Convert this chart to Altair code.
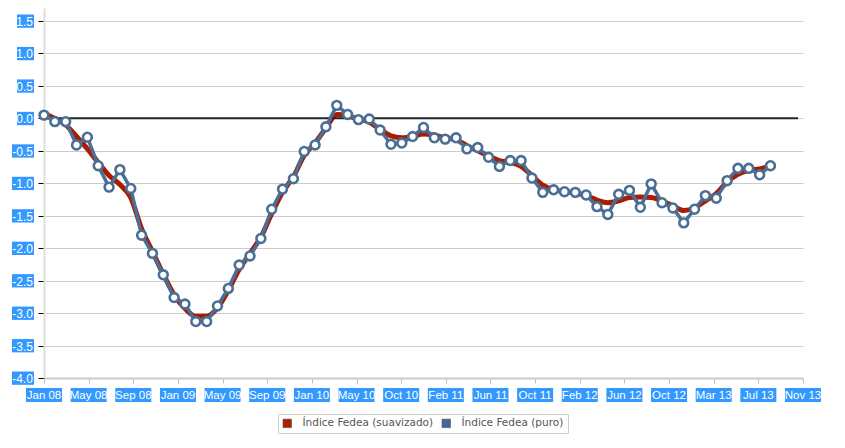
import altair as alt
import pandas as pd

# ---- data (monthly, Jan 2008 .. Aug 2013) ----
puro = [0.05, -0.05, -0.05, -0.41, -0.29, -0.73, -1.06, -0.79, -1.08, -1.80,
        -2.08, -2.41, -2.76, -2.86, -3.13, -3.13, -2.89, -2.62, -2.26, -2.12,
        -1.85, -1.40, -1.09, -0.93, -0.51, -0.41, -0.13, 0.20, 0.06, -0.02,
        -0.01, -0.18, -0.40, -0.38, -0.28, -0.14, -0.30, -0.32, -0.30, -0.47,
        -0.45, -0.60, -0.74, -0.65, -0.65, -0.92, -1.14, -1.10, -1.13, -1.14,
        -1.18, -1.36, -1.48, -1.17, -1.11, -1.37, -1.01, -1.30, -1.38, -1.61,
        -1.40, -1.19, -1.23, -0.96, -0.77, -0.77, -0.87, -0.73]
suavizado = [0.07, 0.00, -0.10, -0.28, -0.47, -0.68, -0.88, -1.02, -1.22, -1.70,
             -2.05, -2.40, -2.72, -2.93, -3.05, -3.05, -2.92, -2.65, -2.33, -2.08,
             -1.83, -1.47, -1.14, -0.90, -0.57, -0.38, -0.15, 0.06, 0.04, -0.01,
             -0.06, -0.17, -0.27, -0.30, -0.28, -0.24, -0.26, -0.30, -0.33, -0.42,
             -0.50, -0.58, -0.65, -0.68, -0.74, -0.88, -1.03, -1.10, -1.13, -1.15,
             -1.19, -1.26, -1.30, -1.27, -1.22, -1.21, -1.22, -1.27, -1.35, -1.42,
             -1.38, -1.27, -1.16, -0.98, -0.86, -0.80, -0.78, -0.73]
x_labels = ["Jan 08", "May 08", "Sep 08", "Jan 09", "May 09", "Sep 09",
            "Jan 10", "May 10", "Oct 10", "Feb 11", "Jun 11", "Oct 11",
            "Feb 12", "Jun 12", "Oct 12", "Mar 13", "Jul 13", "Nov 13"]
y_ticks = [-4.0, -3.5, -3.0, -2.5, -2.0, -1.5, -1.0, -0.5, 0.0, 0.5, 1.0, 1.5]
y_labels = ["-4.0", "-3.5", "-3.0", "-2.5", "-2.0", "-1.5", "-1.0", "-0.5",
            "0.0", "0.5", "1.0", "1.5"]
series = ["Índice Fedea (suavizado)", "Índice Fedea (puro)"]

RED = "#A61D03"
BLUE = "#4A6E95"
HL = "#3399FF"
FONT = "Liberation Sans"
LEG_FONT = "DejaVu Sans"

X_MAX = 70  # months from Jan 08 to Nov 13
df = pd.DataFrame({"m": list(range(len(puro))), "puro": puro, "suav": suavizado})
n_int = len(x_labels) - 1
xt = pd.DataFrame({"p": [i * X_MAX / n_int for i in range(len(x_labels))],
                   "lab": x_labels})
yt = pd.DataFrame({"v": y_ticks, "lab": y_labels})

xs = alt.Scale(domain=[0, X_MAX], nice=False, zero=False)
ys = alt.Scale(domain=[-4.0, 1.70], nice=False, zero=False)

x_axis = alt.Axis(values=xt["p"].tolist(), labels=False, grid=False,
                  domainColor="#cccccc", domainWidth=2, tickColor="#bbbbbb",
                  tickSize=5, title=None)
y_axis = alt.Axis(values=y_ticks, labels=False, grid=True, gridColor="#cccccc",
                  domainColor="#dddddd", domainWidth=2, tickColor="#000000",
                  tickSize=6, title=None)


def X(field):
    return alt.X(field, scale=xs, axis=x_axis)


def Y(field):
    return alt.Y(field, scale=ys, axis=y_axis)


red_line = alt.Chart(df).mark_line(color=RED, strokeWidth=5, interpolate="monotone").encode(
    x=X("m:Q"), y=Y("suav:Q"),
)
blue_line = alt.Chart(df).mark_line(color=BLUE, strokeWidth=3.5).encode(
    x=X("m:Q"), y=Y("puro:Q"),
)
blue_pts = alt.Chart(df).mark_point(shape="circle", filled=True, fill="white",
                                    stroke=BLUE, strokeWidth=2.6, size=78,
                                    opacity=1).encode(
    x=X("m:Q"), y=Y("puro:Q"),
)

zero = alt.Chart(pd.DataFrame({"z": [0.0]})).mark_rule(color="#222222", strokeWidth=2).encode(
    y=Y("z:Q"), x=alt.value(0), x2=alt.value(754),
)

# highlighted tick labels
x_rect = alt.Chart(xt).transform_calculate(
    a="datum.p - 1.66", b="datum.p + 1.66"
).mark_rect(color=HL).encode(
    x=X("a:Q"), x2="b:Q", y=alt.value(380), y2=alt.value(394),
)
x_text = alt.Chart(xt).mark_text(color="white", font=FONT, fontSize=11.5,
                                 baseline="middle", align="center").encode(
    x=X("p:Q"), y=alt.value(387.5), text="lab:N",
)
y_rect_neg = alt.Chart(yt).transform_filter("datum.v < 0").transform_calculate(
    a="datum.v + 0.1", b="datum.v - 0.105"
).mark_rect(color=HL).encode(
    y=Y("a:Q"), y2="b:Q", x=alt.value(-32), x2=alt.value(-10),
)
y_rect_pos = alt.Chart(yt).transform_filter("datum.v >= 0").transform_calculate(
    a="datum.v + 0.1", b="datum.v - 0.105"
).mark_rect(color=HL).encode(
    y=Y("a:Q"), y2="b:Q", x=alt.value(-27), x2=alt.value(-10),
)
y_text = alt.Chart(yt).mark_text(color="white", font=FONT, fontSize=12,
                                 baseline="middle", align="right", dy=1).encode(
    y=Y("v:Q"), x=alt.value(-11), text="lab:N",
)

# legend carrier (clipped away, only feeds the legend)
leg_df = pd.DataFrame({"s": series, "m": [-10, -10], "v": [0.0, 0.0]})
legend_layer = alt.Chart(leg_df).mark_square(clip=True, opacity=1).encode(
    x=X("m:Q"), y=Y("v:Q"),
    color=alt.Color("s:N", scale=alt.Scale(domain=series, range=["#B01E00", "#41679A"]),
                    legend=alt.Legend(title=None, orient="none", legendX=234, legendY=406,
                                      direction="horizontal", symbolType="square",
                                      symbolSize=72, strokeColor="#cccccc", padding=4,
                                      labelFont=LEG_FONT, labelFontSize=10.5,
                                      labelColor="#555555", labelOffset=10,
                                      columnPadding=6, symbolStrokeColor="#555555",
                                      symbolStrokeWidth=0.6)),
)

chart = alt.layer(
    red_line, x_rect, x_text, y_rect_neg, y_rect_pos, y_text,
    zero, blue_line, blue_pts, legend_layer,
).properties(
    width=759, height=370,
    autosize=alt.AutoSizeParams(type="none"),
    padding={"left": 36, "top": 0, "right": 34, "bottom": 62},
).configure_view(stroke="transparent", strokeWidth=0).configure(
    background="white", style={"cell": {"stroke": "transparent", "strokeWidth": 0}}
)

chart.save("out.html", embed_options={"renderer": "svg", "actions": False})
